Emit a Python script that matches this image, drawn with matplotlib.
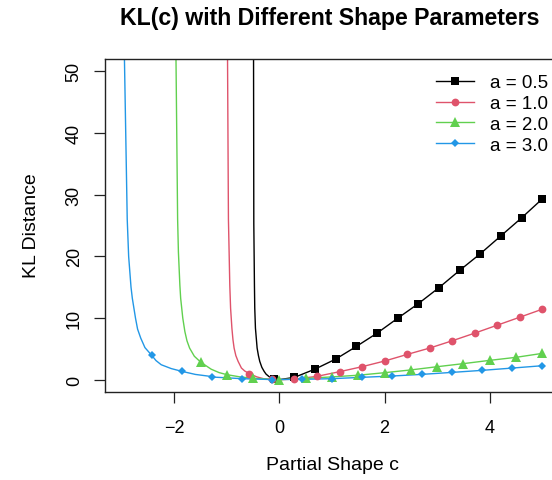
import matplotlib
matplotlib.use("Agg")
import matplotlib.pyplot as plt

plt.rcParams['font.family'] = ['Liberation Sans', 'DejaVu Sans']

# ---- data ----
labels = ["a = 0.5", "a = 1.0", "a = 2.0", "a = 3.0"]
colors = ["#000000", "#DF536B", "#61D04F", "#2297E6"]
markers = ["s", "o", "^", "D"]
msizes = [6.0, 5.6, 7.0, 4.2]

# curve points (left branch near the asymptote)
c_curve_05 = [-0.493, -0.488, -0.476, -0.470, -0.457, -0.425, -0.400, -0.375, -0.335,
              -0.292, -0.255, -0.204, -0.160, -0.107, 0.0]
kl_curve_05 = [52.0, 25.3, 15.3, 11.6, 8.35, 5.12, 3.9, 2.97, 2.0,
               1.35, 0.9, 0.54, 0.25, 0.03, 0.0]
c_curve_10 = [-0.988, -0.971, -0.958, -0.945, -0.930, -0.905, -0.885, -0.863, -0.830, -0.787,
              -0.724, -0.660, -0.571, -0.430, -0.300, -0.143, 0.0]
kl_curve_10 = [52.0, 26.0, 20.7, 15.3, 11.6, 8.35, 6.5, 5.12, 3.9, 2.97,
               1.89, 1.4, 0.97, 0.45, 0.15, 0.03, 0.0]
c_curve_20 = [-1.969, -1.938, -1.923, -1.895, -1.880, -1.840, -1.800, -1.760, -1.710,
              -1.620, -1.500, -1.300, -1.150, -1.0, -0.75, -0.5, 0.0]
kl_curve_20 = [52.0, 26.0, 20.7, 15.3, 13.2, 10.0, 7.8, 6.3, 5.12,
               3.8, 2.85, 1.7, 1.15, 0.81, 0.45, 0.22, 0.0]
c_curve_30 = [-2.950, -2.897, -2.870, -2.825, -2.800, -2.740, -2.700, -2.640, -2.560,
              -2.429, -2.350, -2.250, -2.060, -1.857, -1.600, -1.330, -1.000, -0.714, -0.143]
kl_curve_30 = [52.0, 26.0, 20.0, 15.0, 13.2, 10.0, 8.2, 6.74, 5.2,
               3.93, 3.1, 2.42, 1.8, 1.35, 0.85, 0.55, 0.3, 0.16, 0.02]

# marker points
c_mark_05 = [-0.107, 0.286, 0.679, 1.071, 1.464, 1.857, 2.250, 2.643, 3.036, 3.429, 3.821, 4.214, 4.607, 5.0]
kl_mark_05 = [0.03, 0.38, 1.72, 3.34, 5.39, 7.54, 9.96, 12.33, 14.92, 17.72, 20.41, 23.32, 26.23, 29.30]
c_mark_10 = [-0.571, -0.143, 0.286, 0.714, 1.143, 1.571, 2.0, 2.429, 2.857, 3.286, 3.714, 4.143, 4.571, 5.0]
kl_mark_10 = [0.97, 0.03, 0.08, 0.54, 1.29, 2.10, 3.02, 4.09, 5.12, 6.30, 7.54, 8.83, 10.12, 11.42]
c_mark_20 = [-1.5, -1.0, -0.5, 0.0, 0.5, 1.0, 1.5, 2.0, 2.5, 3.0, 3.5, 4.0, 4.5, 5.0]
kl_mark_20 = [2.85, 0.81, 0.22, 0.0, 0.2, 0.45, 0.72, 1.13, 1.58, 2.10, 2.60, 3.13, 3.62, 4.26]
c_mark_30 = [-2.429, -1.857, -1.286, -0.714, -0.143, 0.429, 1.0, 1.571, 2.143, 2.714, 3.286, 3.857, 4.429, 5.0]
kl_mark_30 = [3.93, 1.35, 0.43, 0.16, 0.02, 0.05, 0.16, 0.38, 0.59, 0.86, 1.18, 1.51, 1.88, 2.26]

x_ticks = [-2, 0, 2, 4]
y_ticks = [0, 10, 20, 30, 40, 50]

curves = [(c_curve_05, kl_curve_05, c_mark_05, kl_mark_05),
          (c_curve_10, kl_curve_10, c_mark_10, kl_mark_10),
          (c_curve_20, kl_curve_20, c_mark_20, kl_mark_20),
          (c_curve_30, kl_curve_30, c_mark_30, kl_mark_30)]

W, H = 552, 481
fig = plt.figure(figsize=(W / 100, H / 100), dpi=100)
ax = fig.add_axes([105 / W, 1 - 393 / H, 454 / W, 333 / H])

handles = []
for (cc, kc, cm, km), col, mk, ms, lab in zip(curves, colors, markers, msizes, labels):
    pts = sorted(set(zip(cc, kc)) | set(zip(cm, km)))
    xs = [p[0] for p in pts]
    ys = [p[1] for p in pts]
    ax.plot(xs, ys, color=col, lw=1.0, zorder=2, solid_joinstyle="round")
    ax.plot(cm, km, linestyle="none", marker=mk, color=col, markersize=ms,
            markeredgewidth=0, zorder=3)
    h, = ax.plot([], [], color=col, lw=1.0, marker=mk, markersize=ms,
                 markeredgewidth=0, label=lab)
    handles.append(h)

ax.set_xlim(-3.32, 5.32)
ax.set_ylim(-2, 52)
ax.set_xticks(x_ticks)
ax.set_xticklabels(["\u2212" + str(abs(t)) if t < 0 else str(t) for t in x_ticks])
ax.set_yticks(y_ticks)
ax.set_yticklabels([str(t) for t in y_ticks], rotation=90, va="center")
ax.tick_params(axis="both", labelsize=13, length=8, width=0.9, color="#222222")
ax.tick_params(axis="x", pad=11.5)
ax.tick_params(axis="y", pad=8)
for s in ax.spines.values():
    s.set_linewidth(1.0)
    s.set_color("#222222")

ax.legend(handles=handles, loc="upper left", bbox_to_anchor=(423 / W, 1 - 62 / H),
          bbox_transform=fig.transFigure, frameon=False, fontsize=13.5,
          handlelength=2.0, handletextpad=0.9, labelspacing=0.2, borderpad=0.2)

fig.text(330 / W, 1 - 18 / H, "KL(c) with Different Shape Parameters",
         ha="center", va="center", fontsize=16.7, fontweight="bold")
fig.text(332 / W, 1 - 466 / H, "Partial Shape c", ha="center", va="center", fontsize=14)
fig.text(32 / W, 1 - 226 / H, "KL Distance", ha="center", va="center",
         rotation=90, fontsize=14)

fig.savefig("out.png", dpi=100)
